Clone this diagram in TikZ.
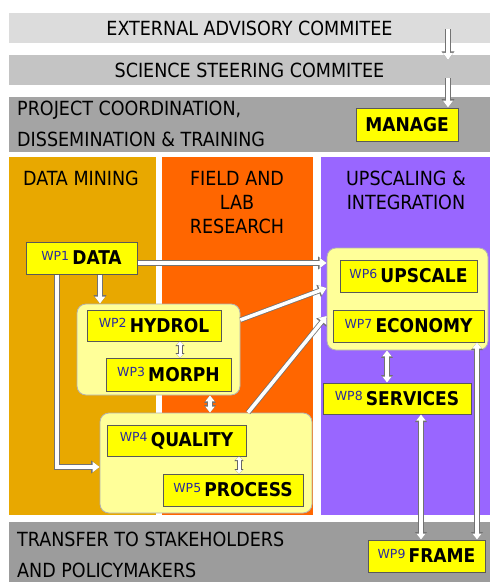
\documentclass[tikz,border=0pt]{standalone}
\usepackage{fontspec}
\setmainfont{DejaVu Sans Condensed}
\newfontfamily\wpfont{DejaVu Sans}
\usetikzlibrary{positioning,arrows.meta}
\definecolor{bandA}{HTML}{DCDCDC}
\definecolor{bandB}{HTML}{C4C4C4}
\definecolor{bandC}{HTML}{A4A4A4}
\definecolor{bandD}{HTML}{9C9C9C}
\definecolor{mining}{HTML}{E8A800}
\definecolor{field}{HTML}{FF6600}
\definecolor{upscal}{HTML}{9966FF}
\definecolor{wpyellow}{HTML}{FFFF00}
\definecolor{grpyellow}{HTML}{FFFF99}
\definecolor{wpblue}{HTML}{2A2AA0}
\tikzset{band/.style={rectangle,inner sep=0pt,minimum width=481pt},
	 bandtext/.style={anchor=west,inner sep=0pt,align=left,font=\fontsize{19.5}{31}\selectfont},
	 column/.style={rectangle,inner sep=0pt,minimum height=358pt},
	 colhead/.style={anchor=north,inner sep=0pt,align=center,font=\fontsize{19.5}{24}\selectfont},
	 wpbox/.style={rectangle,draw=black!65,line width=1pt,fill=wpyellow,inner sep=0pt,font=\bfseries\fontsize{19}{20}\selectfont},
	 wpgroup/.style={rectangle,rounded corners=9pt,draw=black!30,line width=0.8pt,fill=grpyellow,inner sep=0pt},
	 wparrow/.style={white,line width=3.6pt,-{Triangle[length=7pt,width=10pt]},
	   preaction={draw=black!55,line width=5.2pt,-{Triangle[length=8.5pt,width=12.5pt]}}},
	 wpboth/.style={white,line width=3.6pt,{Triangle[length=6pt,width=9pt]}-{Triangle[length=6pt,width=9pt]},
	   preaction={draw=black!55,line width=5.2pt,{Triangle[length=7.5pt,width=11.5pt]}-{Triangle[length=7.5pt,width=11.5pt]}}},
	 wpshort/.style={white,line width=3pt,{Triangle[length=3.5pt,width=6.5pt]}-{Triangle[length=3.5pt,width=6.5pt]},
	   preaction={draw=black!60,line width=5pt,{Triangle[length=4.5pt,width=9pt]}-{Triangle[length=4.5pt,width=9pt]}}}
	 }
\newcommand{\wplabel}[2]{\raisebox{4.5pt}{\wpfont\mdseries\fontsize{12.5}{12.5}\selectfont\color{wpblue}WP#1}\,#2}

\begin{document}
\begin{tikzpicture}[x=1pt,y=-1pt]
	\useasboundingbox[fill=white] (0,0) rectangle (490,582);
	% committees and coordination
	\node[band,fill=bandA,minimum height=30pt] (ext) at (249.5,28) {\fontsize{19.5}{20}\selectfont EXTERNAL ADVISORY COMMITEE};
	\node[band,fill=bandB,minimum height=30pt] (steer) at (249.5,70) {\fontsize{19.5}{20}\selectfont SCIENCE STEERING COMMITEE};
	\node[band,fill=bandC,minimum height=55pt] (coord) at (249.5,124.5) {};
	\node[bandtext] (coordtext) at (17,124) {PROJECT COORDINATION,\\DISSEMINATION \& TRAINING};
	\node[wpbox,minimum width=102pt,minimum height=33pt] (manage) at (407,124.5) {MANAGE};
	% work package columns
	\node[column,fill=mining,minimum width=147pt] (mine) at (82.5,336) {};
	\node[column,fill=field,minimum width=151pt] (lab) at (237.5,336) {};
	\node[column,fill=upscal,minimum width=169pt] (integ) at (405.5,336) {};
	\node[colhead] (minehead) at (81,171) {DATA MINING};
	\node[colhead] (labhead) at (237,171) {FIELD AND\\LAB\\RESEARCH};
	\node[colhead] (integhead) at (406,171) {UPSCALING \&\\INTEGRATION};
	\node[band,fill=bandD,minimum height=60pt] (transfer) at (249.5,552) {};
	\node[bandtext] (transfertext) at (17,555) {TRANSFER TO STAKEHOLDERS\\AND POLICYMAKERS};
	% groups of work packages
	\node[wpgroup,minimum width=163pt,minimum height=91pt] (grpA) at (158.5,349.5) {};
	\node[wpgroup,minimum width=212pt,minimum height=100pt] (grpB) at (206,463) {};
	\node[wpgroup,minimum width=161pt,minimum height=102pt] (grpC) at (407.5,299) {};
	% work packages
	\node[wpbox,minimum width=111pt,minimum height=32pt] (data) at (81.5,258) {\wplabel{1}{DATA}};
	\node[wpbox,minimum width=134pt,minimum height=31pt] (hydrol) at (154,325.5) {\wplabel{2}{HYDROL}};
	\node[wpbox,minimum width=125pt,minimum height=33pt] (morph) at (168.5,374.5) {\wplabel{3}{MORPH}};
	\node[wpbox,minimum width=139pt,minimum height=31pt] (quality) at (176.5,440.5) {\wplabel{4}{QUALITY}};
	\node[wpbox,minimum width=140pt,minimum height=32pt] (process) at (233,490) {\wplabel{5}{PROCESS}};
	\node[wpbox,minimum width=137pt,minimum height=32pt] (upscale) at (408.5,276) {\wplabel{6}{UPSCALE}};
	\node[wpbox,minimum width=151pt,minimum height=32pt] (economy) at (408.5,326) {\wplabel{7}{ECONOMY}};
	\node[wpbox,minimum width=148pt,minimum height=31pt] (services) at (397,398.5) {\wplabel{8}{SERVICES}};
	\node[wpbox,minimum width=117pt,minimum height=32pt] (frame) at (426.5,556) {\wplabel{9}{FRAME}};
	% flows
	\coordinate (advice) at (448,29);
	\draw[wparrow] (advice) -- ([yshift=-5pt]advice |- steer.north);
	\draw[wparrow] ([yshift=-8pt]advice |- steer.center) -- (advice |- manage.north);
	\draw[wparrow] ([yshift=-5pt]data.east) -- ([yshift=-5pt]data.east -| grpC.west);
	\draw[wparrow] ([xshift=18.5pt]data.south) -- ([xshift=18.5pt]data.south |- grpA.north);
	\draw[wparrow] ([xshift=-24.5pt]data.south) |- ([yshift=-4pt]grpB.west);
	\draw[wparrow] ([yshift=29.5pt]grpA.east) -- ([yshift=11pt]grpC.west);
	\draw[wparrow] ([xshift=42pt]grpB.north) -- ([yshift=-17pt]grpC.west);
	\draw[wpshort] ([xshift=26pt]hydrol.south) -- ([xshift=26pt]hydrol.south |- morph.north);
	\draw[wpboth] ([xshift=51.5pt]grpA.south) -- ([xshift=51.5pt]grpA.south |- grpB.north);
	\draw[wpshort] ([xshift=62.5pt]quality.south) -- ([xshift=62.5pt]quality.south |- process.north);
	\draw[wpboth] ([xshift=-20.5pt]grpC.south) -- ([xshift=-20.5pt]grpC.south |- services.north);
	\draw[wpboth] ([xshift=24pt]services.south) -- ([xshift=24pt]services.south |- frame.north);
	\draw[wpboth] ([xshift=68.5pt]economy.south) -- ([xshift=68.5pt]economy.south |- frame.north);
\end{tikzpicture}
\end{document}
